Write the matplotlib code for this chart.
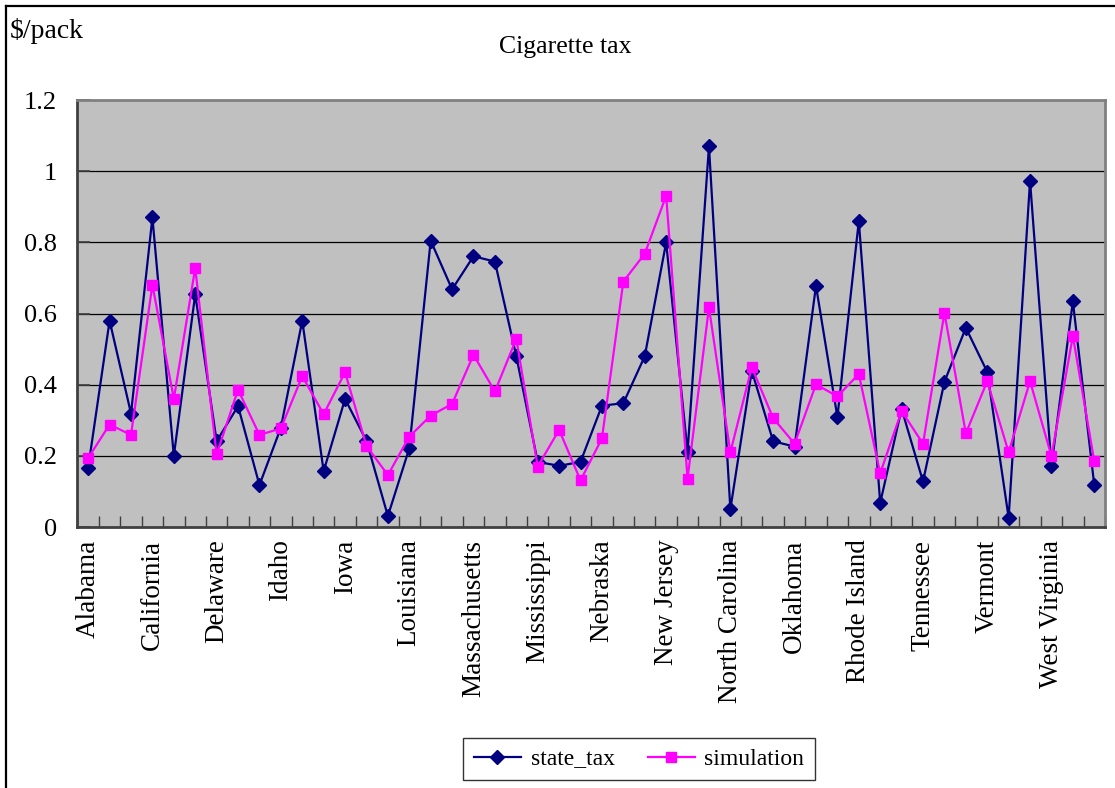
import matplotlib
matplotlib.use("Agg")
import matplotlib.pyplot as plt
from matplotlib.lines import Line2D
import numpy as np

states = [
    "Alabama", "Arizona", "Arkansas", "California", "Colorado", "Connecticut",
    "Delaware", "Florida", "Georgia", "Idaho", "Illinois", "Indiana",
    "Iowa", "Kansas", "Kentucky", "Louisiana", "Maine", "Maryland",
    "Massachusetts", "Michigan", "Minnesota", "Mississippi", "Missouri", "Montana",
    "Nebraska", "Nevada", "New Hampshire", "New Jersey", "New Mexico", "New York",
    "North Carolina", "North Dakota", "Ohio", "Oklahoma", "Oregon", "Pennsylvania",
    "Rhode Island", "South Carolina", "South Dakota", "Tennessee", "Texas", "Utah",
    "Vermont", "Virginia", "Washington", "West Virginia", "Wisconsin", "Wyoming",
]

state_tax = [
    0.167, 0.580, 0.319, 0.870, 0.200, 0.654,
    0.241, 0.340, 0.118, 0.279, 0.580, 0.157,
    0.360, 0.242, 0.031, 0.221, 0.805, 0.668,
    0.761, 0.746, 0.480, 0.183, 0.172, 0.183,
    0.341, 0.348, 0.480, 0.800, 0.212, 1.070,
    0.050, 0.439, 0.241, 0.226, 0.678, 0.309,
    0.860, 0.068, 0.332, 0.128, 0.408, 0.560,
    0.436, 0.026, 0.973, 0.172, 0.634, 0.118,
]

simulation = [
    0.194, 0.288, 0.259, 0.681, 0.360, 0.728,
    0.204, 0.386, 0.259, 0.277, 0.424, 0.317,
    0.435, 0.228, 0.146, 0.254, 0.313, 0.346,
    0.484, 0.381, 0.529, 0.170, 0.273, 0.131,
    0.249, 0.690, 0.768, 0.931, 0.136, 0.617,
    0.210, 0.449, 0.306, 0.234, 0.401, 0.367,
    0.430, 0.151, 0.326, 0.234, 0.602, 0.263,
    0.410, 0.210, 0.410, 0.199, 0.537, 0.185,
]

y_ticks = [0, 0.2, 0.4, 0.6, 0.8, 1, 1.2]
y_tick_labels = ["0", "0.2", "0.4", "0.6", "0.8", "1", "1.2"]

plt.rcParams["font.family"] = ["Liberation Serif", "DejaVu Serif"]

fig = plt.figure(figsize=(11.15, 7.88), dpi=100)
ax = fig.add_axes([0.0695, 0.3312, 0.9215, 0.5418])
ax.set_facecolor("#C0C0C0")

x = np.arange(len(states))
ax.plot(x, state_tax, color="#000080", lw=1.6, marker="D", ms=7,
        mec="#000080", mfc="#000080", label="state_tax", zorder=3)
ax.plot(x, simulation, color="#FF00FF", lw=1.6, marker="s", ms=7.5,
        mec="#FF00FF", mfc="#FF00FF", label="simulation", zorder=4)

ax.set_xlim(-0.5, len(states) - 0.5)
ax.set_ylim(0, 1.2)

# horizontal gridlines
for yv in y_ticks[1:-1]:
    ax.axhline(yv, color="black", lw=0.9, zorder=1)

ax.set_yticks(y_ticks)
ax.set_yticklabels(y_tick_labels, fontsize=19)
ax.tick_params(axis="y", direction="in", length=9, width=1.2,
               color="#404040", pad=15)

# category labels every third state, ticks on category boundaries
ax.set_xticks(x[::3])
ax.set_xticklabels([states[i] for i in x[::3]], rotation=90, fontsize=19.5,
                   va="top", ha="center")
ax.tick_params(axis="x", which="major", length=0, pad=9)
ax.set_xticks(np.arange(-0.5, len(states) + 0.5, 1.0), minor=True)
ax.tick_params(axis="x", which="minor", direction="in", length=8,
               width=1.0, color="#404040")

for side in ("left", "bottom"):
    ax.spines[side].set_color("#404040")
    ax.spines[side].set_linewidth(2.0)
for side in ("top", "right"):
    ax.spines[side].set_color("#808080")
    ax.spines[side].set_linewidth(2.0)

fig.text(565 / 1115, 1 - 47 / 788, "Cigarette tax", ha="center", va="center",
         fontsize=18.5)
fig.text(10 / 1115, 1 - 31 / 788, "$/pack", ha="left", va="center", fontsize=20)

leg = fig.legend(loc="center", bbox_to_anchor=(639 / 1115, 1 - 759 / 788),
                 ncol=2, fontsize=17, frameon=True, fancybox=False,
                 edgecolor="black", handlelength=2.0, handletextpad=0.4,
                 columnspacing=1.4, borderpad=0.45)
leg.get_frame().set_linewidth(1.0)

# outer frame of the chart area
fig.add_artist(Line2D([6 / 1115, 6 / 1115], [0, 1 - 6 / 788],
                      transform=fig.transFigure, color="black", lw=1.6))
fig.add_artist(Line2D([6 / 1115, 1], [1 - 6 / 788, 1 - 6 / 788],
                      transform=fig.transFigure, color="black", lw=1.6))

fig.savefig("out.png", dpi=100)
